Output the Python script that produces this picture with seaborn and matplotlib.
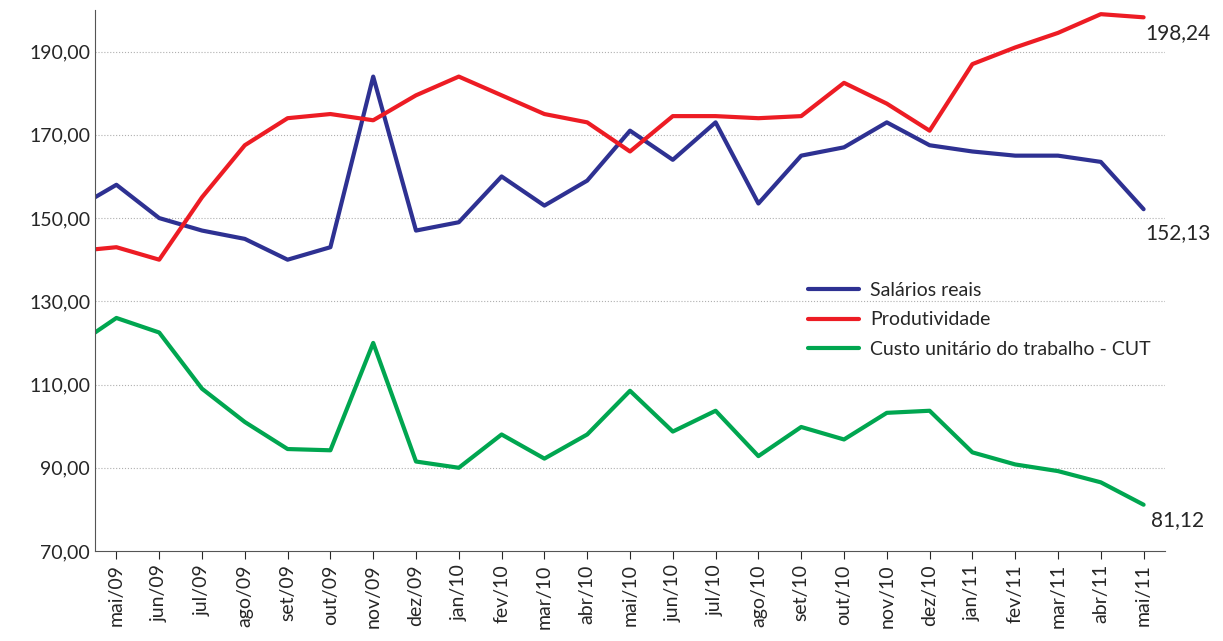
import matplotlib
matplotlib.use("Agg")
import matplotlib.pyplot as plt
import seaborn as sns
import numpy as np
import pandas as pd

months = ["mai/09", "jun/09", "jul/09", "ago/09", "set/09", "out/09", "nov/09", "dez/09",
          "jan/10", "fev/10", "mar/10", "abr/10", "mai/10", "jun/10", "jul/10", "ago/10",
          "set/10", "out/10", "nov/10", "dez/10", "jan/11", "fev/11", "mar/11", "abr/11", "mai/11"]

# first value is the point before mai/09 (left edge)
salarios = [155, 158, 150, 147, 145, 140, 143, 184, 147, 149, 160, 153, 159, 171, 164, 173,
            153.5, 165, 167, 173, 167.5, 166, 165, 165, 163.5, 152.13]
produtividade = [142.5, 143, 140, 155, 167.5, 174, 175, 173.5, 179.5, 184, 179.5, 175, 173,
                 166, 174.5, 174.5, 174, 174.5, 182.5, 177.5, 171, 187, 191, 194.5, 199, 198.24]
cut = [122.5, 126, 122.5, 109, 101, 94.5, 94.2, 120, 91.5, 90, 98, 92.2, 98, 108.5, 98.7,
       103.7, 92.8, 99.8, 96.8, 103.2, 103.7, 93.7, 90.8, 89.2, 86.5, 81.12]

sns.set_style("white")
plt.rcParams["font.family"] = ["Lato", "DejaVu Sans"]

x = np.concatenate([[-0.5], np.arange(len(months))])
df = pd.DataFrame({"x": x, "Salários reais": salarios, "Produtividade": produtividade,
                   "Custo unitário do trabalho - CUT": cut})
long = df.melt(id_vars="x", var_name="serie", value_name="valor")

fig = plt.figure(figsize=(12.23, 6.41), dpi=100)
ax = fig.add_axes([95 / 1223, 1 - 551 / 641, 1070 / 1223, 541 / 641])
sns.lineplot(data=long, x="x", y="valor", hue="serie", ax=ax, lw=3,
             palette=["#2e3192", "#ed1c24", "#00a650"])

ax.set_xlim(-0.5, 24.5)
ax.set_ylim(70, 200)
ax.set_yticks(np.arange(70, 191, 20))
ax.set_yticklabels([f"{v:.2f}".replace(".", ",") for v in np.arange(70, 191, 20)], fontsize=14)
ax.set_xticks(np.arange(len(months)))
ax.set_xticklabels(months, rotation=90, fontsize=14)
ax.tick_params(axis="x", length=6, direction="out", bottom=True)
ax.tick_params(axis="y", length=0)
for v in np.arange(90, 191, 20):
    ax.axhline(v, color="#b0b0b0", ls=":", lw=0.8, zorder=0)
ax.set_xlabel("")
ax.set_ylabel("")
for s in ["top", "right"]:
    ax.spines[s].set_visible(False)
for s in ["left", "bottom"]:
    ax.spines[s].set_color("#555555")

ax.text(24.8, 198.24 - 3.8, "198,24", fontsize=15, ha="center", va="center", clip_on=False)
ax.text(24.8, 152.13 - 5.8, "152,13", fontsize=15, ha="center", va="center", clip_on=False)
ax.text(24.8, 81.12 - 3.8, "81,12", fontsize=15, ha="center", va="center", clip_on=False)

ax.legend(title=None, frameon=False, fontsize=14, loc="upper left",
          bbox_to_anchor=(0.65, 0.53), handlelength=2.6, handletextpad=0.6,
          labelspacing=0.65)

fig.savefig("out.png", dpi=100)
